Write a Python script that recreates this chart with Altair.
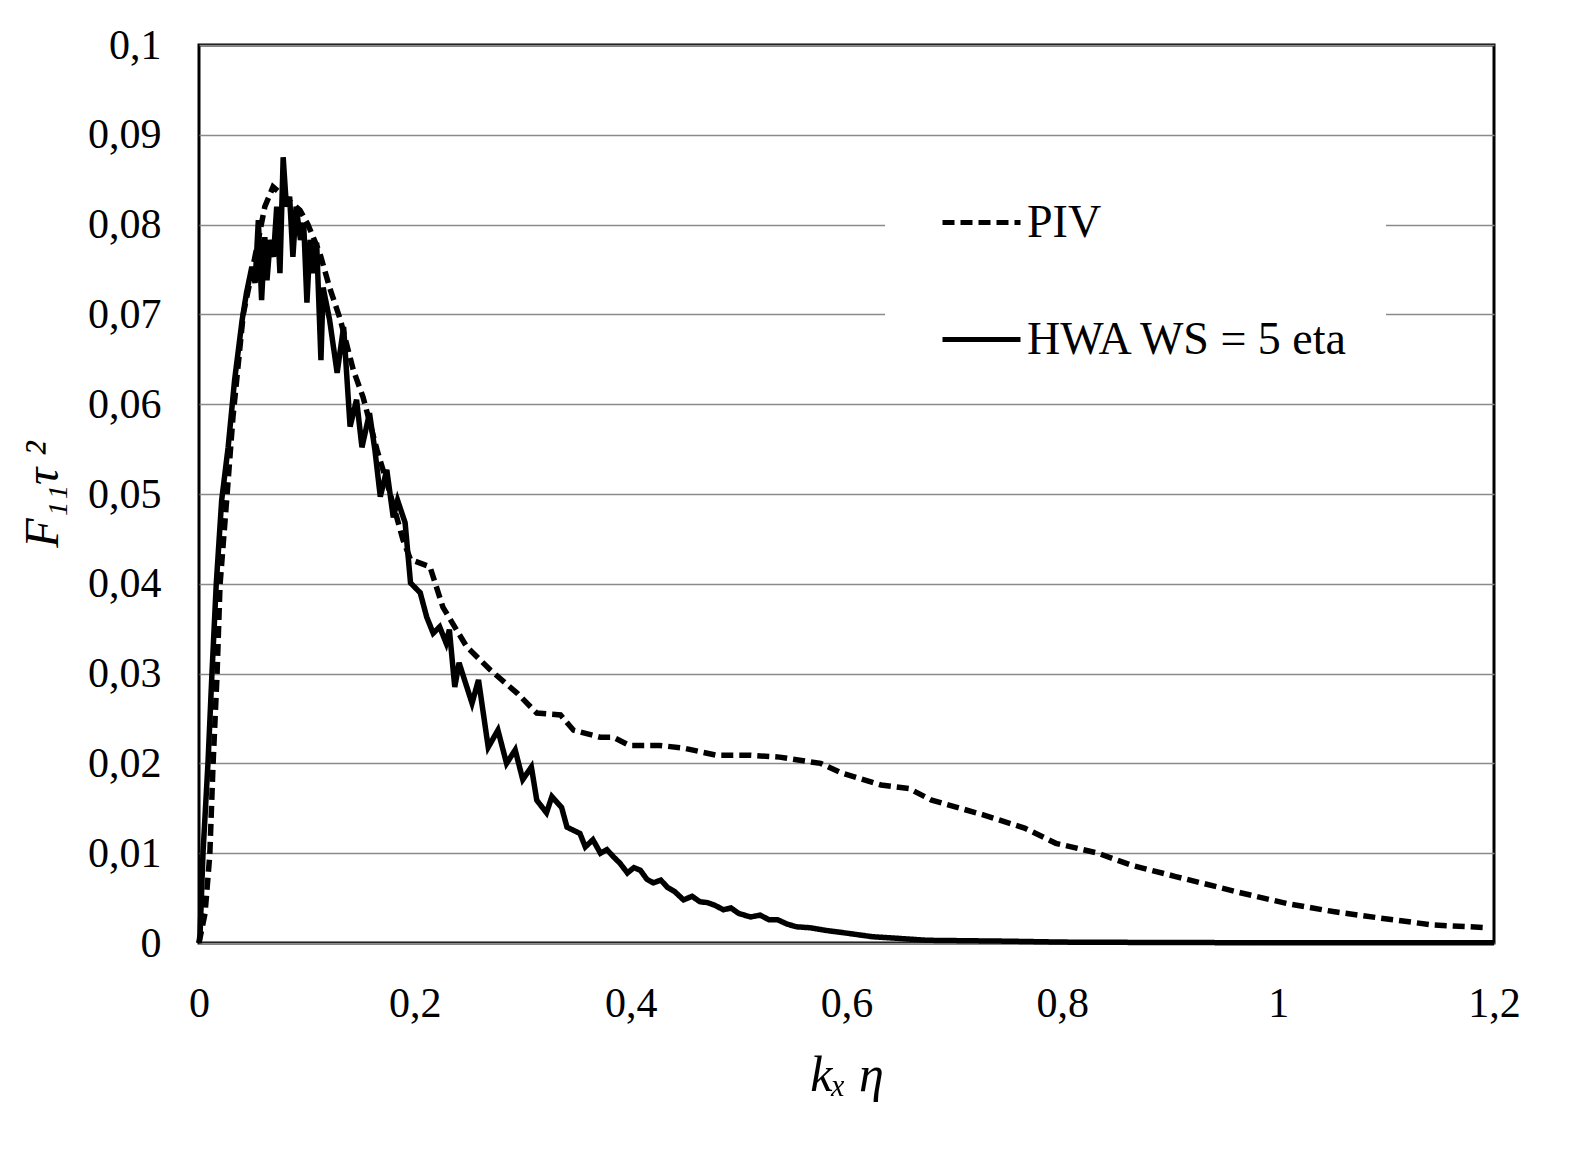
import altair as alt
import pandas as pd

# PIV (dashed) spectrum
piv_k = [0, 0.0056, 0.010, 0.013, 0.0167, 0.0195, 0.026, 0.0315, 0.041, 0.050, 0.061, 0.0686,
         0.0936, 0.101, 0.112, 0.121, 0.131, 0.143, 0.152, 0.165, 0.177, 0.189, 0.196, 0.214,
         0.226, 0.248, 0.270, 0.295, 0.313, 0.335, 0.347, 0.372, 0.384, 0.399, 0.427, 0.449,
         0.480, 0.511, 0.538, 0.576, 0.594, 0.632, 0.658, 0.679, 0.726, 0.765, 0.794, 0.833,
         0.863, 0.905, 0.965, 1.008, 1.051, 1.093, 1.144, 1.195]
piv_f = [0, 0.0033, 0.0098, 0.0198, 0.0298, 0.0399, 0.0499, 0.0586, 0.070, 0.0753, 0.082, 0.0842,
         0.0816, 0.080, 0.0768, 0.073, 0.0694, 0.0638, 0.0608, 0.0549, 0.0501, 0.0449, 0.0427, 0.0419,
         0.0374, 0.033, 0.0304, 0.0278, 0.0256, 0.0254, 0.0237, 0.0229, 0.0229, 0.0220, 0.0220, 0.0217,
         0.0209, 0.0209, 0.0207, 0.0200, 0.0190, 0.0176, 0.0172, 0.0159, 0.0143, 0.0128, 0.0111, 0.0100,
         0.0087, 0.0074, 0.0056, 0.0044, 0.0035, 0.0028, 0.0020, 0.0017]

# HWA (solid) spectrum
hwa_k = [0, 0.001, 0.0037, 0.0083, 0.012, 0.016, 0.021, 0.027, 0.033, 0.040, 0.044, 0.049, 0.052,
         0.055, 0.058, 0.061, 0.063, 0.066, 0.069, 0.072, 0.075, 0.078, 0.081, 0.084, 0.087, 0.090,
         0.094, 0.097, 0.100, 0.103, 0.106, 0.109, 0.113, 0.115, 0.121, 0.128, 0.134, 0.140, 0.146,
         0.151, 0.158, 0.163, 0.168, 0.174, 0.180, 0.184, 0.191, 0.196, 0.205, 0.211, 0.217, 0.223,
         0.229, 0.232, 0.237, 0.241, 0.253, 0.259, 0.268, 0.277, 0.285, 0.293, 0.300, 0.308, 0.313,
         0.322, 0.327, 0.336, 0.341, 0.353, 0.358, 0.365, 0.372, 0.378, 0.384, 0.390, 0.397, 0.403,
         0.409, 0.415, 0.421, 0.428, 0.434, 0.441, 0.449, 0.457, 0.464, 0.471, 0.478, 0.486, 0.493,
         0.500, 0.511, 0.520, 0.528, 0.536, 0.545, 0.554, 0.566, 0.581, 0.600, 0.624, 0.650, 0.675,
         0.75, 0.8, 0.9, 1.0, 1.2]
hwa_f = [0, 0.001, 0.01, 0.02, 0.03, 0.04, 0.0493, 0.0552, 0.0627, 0.0694, 0.0724, 0.0753, 0.0735,
         0.0805, 0.0716, 0.0786, 0.0738, 0.0783, 0.0764, 0.082, 0.0746, 0.0875, 0.082, 0.0831, 0.0764, 0.082,
         0.0783, 0.0802, 0.0713, 0.0783, 0.0746, 0.078, 0.0649, 0.073, 0.0694, 0.0635, 0.0686, 0.0575, 0.0605,
         0.0552, 0.059, 0.0549, 0.0497, 0.0527, 0.0474, 0.0493, 0.0468, 0.0401, 0.039, 0.0363, 0.0345, 0.0352,
         0.0334, 0.0349, 0.0285, 0.0312, 0.0267, 0.0293, 0.0218, 0.0237, 0.020, 0.0215, 0.0182, 0.0196, 0.0159,
         0.0145, 0.0163, 0.0151, 0.0129, 0.0122, 0.0107, 0.0115, 0.0100, 0.0104, 0.0096, 0.0089, 0.0078, 0.0084,
         0.0081, 0.0071, 0.0067, 0.0070, 0.0062, 0.0057, 0.0048, 0.0052, 0.0046, 0.0045, 0.0042, 0.0037, 0.0039,
         0.0033, 0.0029, 0.0031, 0.0026, 0.0026, 0.0021, 0.0018, 0.0017, 0.0014, 0.0011, 0.0007, 0.0005, 0.0003,
         0.0002, 0.0001, 0.00005, 0.00003, 0.00002]

series_names = ["PIV", "HWA WS = 5 eta"]
x_ticks = [0, 0.2, 0.4, 0.6, 0.8, 1.0, 1.2]
y_ticks = [0, 0.01, 0.02, 0.03, 0.04, 0.05, 0.06, 0.07, 0.08, 0.09, 0.1]

rows = []
for i, (k, f) in enumerate(zip(piv_k, piv_f)):
    rows.append({"series": series_names[0], "k": k, "F": f, "i": i})
for i, (k, f) in enumerate(zip(hwa_k, hwa_f)):
    rows.append({"series": series_names[1], "k": k, "F": f, "i": i})
df = pd.DataFrame(rows)

FONT = "Liberation Serif"
label_expr = "replace(format(datum.value, '~g'), '.', ',')"

chart = alt.Chart(df).mark_line(strokeWidth=5.5, color="black", strokeCap="butt").encode(
    x=alt.X("k:Q", scale=alt.Scale(domain=[0, 1.2], nice=False),
            axis=alt.Axis(values=x_ticks, labelExpr=label_expr, grid=False, ticks=False,
                          domain=False, labelPadding=40, labelFontSize=42, labelFlush=False,
                          title="kₓ η", titleFontSize=50, titleFontStyle="italic",
                          titleFontWeight="normal", titlePadding=26)),
    y=alt.Y("F:Q", scale=alt.Scale(domain=[0, 0.1], nice=False),
            axis=alt.Axis(values=y_ticks, labelExpr=label_expr, grid=True, ticks=False,
                          domain=False, labelPadding=38, labelFontSize=42,
                          title="F₁₁τ ²", titleFontSize=48, titleFontStyle="italic",
                          titleFontWeight="normal", titlePadding=20)),
    strokeDash=alt.StrokeDash("series:N",
                              scale=alt.Scale(domain=series_names, range=[[12, 6], [1, 0]]),
                              legend=alt.Legend(title=None, orient="none", legendX=686, legendY=101,
                                                symbolType="stroke", symbolSize=6084,
                                                symbolStrokeWidth=5, symbolStrokeColor="black",
                                                labelFontSize=46, labelFont=FONT, labelOffset=4,
                                                labelLimit=800, rowPadding=52, padding=35,
                                                symbolOffset=20,
                                                fillColor="white", strokeColor="white")),
    detail="series:N",
    order="i:Q",
).properties(
    width=1295, height=898,
    autosize=alt.AutoSizeParams(type="none"),
    padding={"left": 191, "top": 37, "right": 60, "bottom": 200},
).configure_view(
    stroke="black", strokeWidth=3
).configure_axis(
    labelFont=FONT, titleFont=FONT, labelColor="black", titleColor="black",
    gridColor="#8a8a8a", gridWidth=1.5
)

chart.save("out.html", embed_options={"renderer": "svg", "actions": False})
